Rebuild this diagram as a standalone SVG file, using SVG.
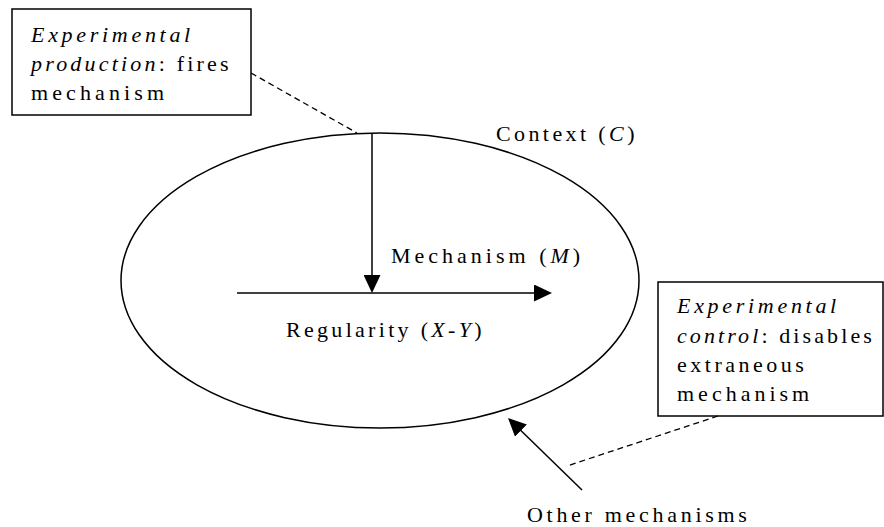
<svg xmlns="http://www.w3.org/2000/svg" width="884" height="527" viewBox="0 0 884 527">
  <style>
    .t { font-family: "Liberation Serif", "Times New Roman", serif; font-size: 22px; fill: #000; }
    .it { font-style: italic; }
    .box { fill: #fff; stroke: #000; stroke-width: 1.5; }
    .line { stroke: #000; stroke-width: 1.5; fill: none; }
    .dash { stroke: #000; stroke-width: 1.3; fill: none; stroke-dasharray: 6 4; }
  </style>
  <defs>
    <marker id="arrow" markerUnits="userSpaceOnUse" markerWidth="18" markerHeight="17" refX="8" refY="8.5" orient="auto">
      <path d="M0,0 L18,8.5 L0,17 z" fill="#000"/>
    </marker>
  </defs>
  <rect width="884" height="527" fill="#fff"/>

  <g id="context">
    <ellipse cx="380" cy="280.5" rx="259" ry="147.5" class="line"/>
    <text class="t" x="496" y="141" letter-spacing="3.4">Context (<tspan class="it">C</tspan>)</text>
  </g>

  <g id="production-box">
    <rect x="12" y="9" width="239" height="106" class="box"/>
    <text class="t it" x="31" y="42" letter-spacing="3.7">Experimental</text>
    <text class="t" x="31" y="71" letter-spacing="3.2"><tspan class="it">production</tspan>: fires</text>
    <text class="t" x="31" y="100" letter-spacing="4.1">mechanism</text>
  </g>

  <g id="control-box">
    <rect x="658" y="282" width="225" height="134" class="box"/>
    <text class="t it" x="677" y="313" letter-spacing="3.7">Experimental</text>
    <text class="t" x="677" y="343" letter-spacing="3.1"><tspan class="it">control</tspan>: disables</text>
    <text class="t" x="677" y="372" letter-spacing="3.5">extraneous</text>
    <text class="t" x="677" y="401" letter-spacing="4.0">mechanism</text>
  </g>

  <g id="mechanism-label">
    <text class="t" x="391" y="263" letter-spacing="4.0">Mechanism (<tspan class="it">M</tspan>)</text>
  </g>

  <g id="regularity-label">
    <text class="t" x="286" y="337" letter-spacing="3.3">Regularity (<tspan class="it">X</tspan>-<tspan class="it">Y</tspan>)</text>
  </g>

  <g id="other-mechanisms">
    <text class="t" x="527" y="522" letter-spacing="3.7">Other mechanisms</text>
  </g>

  <g id="connectors">
    <line x1="372" y1="133" x2="372" y2="283" class="line" marker-end="url(#arrow)"/>
    <line x1="237" y1="293" x2="542" y2="293" class="line" marker-end="url(#arrow)"/>
    <line x1="582" y1="490" x2="515.2" y2="425" class="line" marker-end="url(#arrow)"/>
    <line x1="251" y1="73" x2="357" y2="133" class="dash"/>
    <line x1="718" y1="416" x2="567" y2="466" class="dash"/>
  </g>
</svg>
